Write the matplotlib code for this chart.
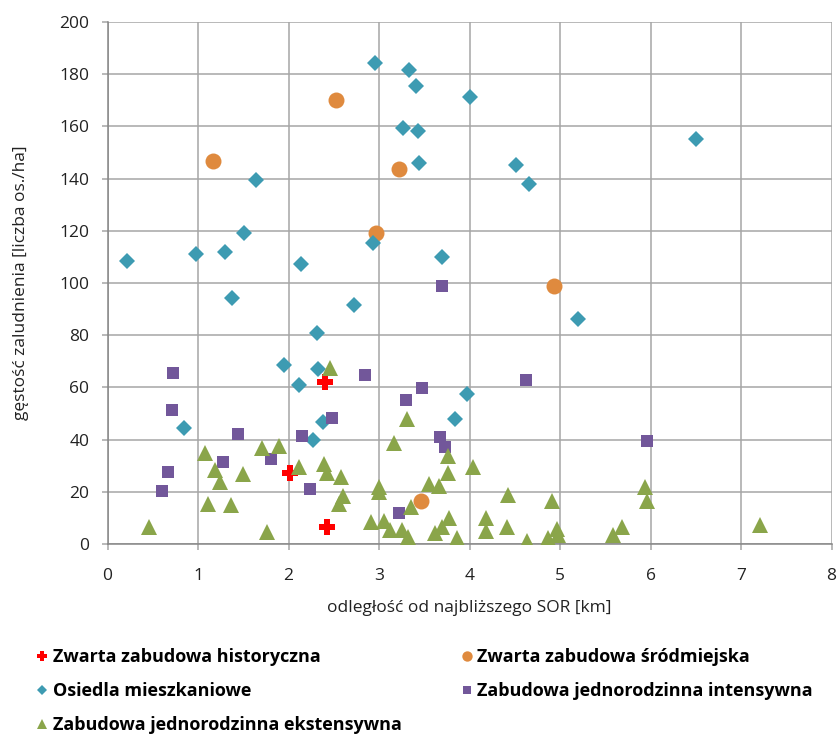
import matplotlib
matplotlib.use('Agg')
import matplotlib.pyplot as plt
from matplotlib import font_manager as fm
from matplotlib.lines import Line2D

# font: pick a narrow sans if installed (reference uses Calibri)
_installed = {f.name for f in fm.fontManager.ttflist}
_family = [f for f in ['Liberation Sans Narrow', 'Open Sans', 'DejaVu Sans'] if f in _installed]
plt.rcParams['font.family'] = _family + ['DejaVu Sans']

# --- dane ---
hist_x = [2.40, 2.02, 2.42]
hist_y = [61.9, 27.2, 6.4]

srod_x = [2.52, 1.16, 3.22, 2.97, 4.93, 3.46]
srod_y = [170.0, 146.9, 143.7, 119.0, 98.8, 16.6]

osiedla_x = [0.22, 0.98, 1.30, 1.51, 1.64, 2.14, 2.95, 3.33, 3.41, 4.00,
             3.26, 3.43, 3.44, 2.93, 3.70, 4.51, 4.66, 6.50, 1.37, 2.72,
             2.31, 1.95, 2.32, 2.12, 0.85, 2.38, 2.27, 3.84, 3.97, 5.20]
osiedla_y = [108.6, 111.1, 111.8, 119.3, 139.6, 107.1, 184.4, 181.5, 175.6, 171.1,
             159.5, 158.2, 145.8, 115.4, 110.1, 145.1, 137.9, 155.2, 94.4, 91.5,
             80.8, 68.7, 66.9, 60.8, 44.4, 46.8, 39.7, 47.9, 57.4, 86.1]

intens_x = [0.72, 0.71, 1.44, 1.28, 0.67, 0.60, 1.81, 2.15, 2.24, 2.48,
            2.84, 3.70, 3.30, 3.48, 3.22, 3.67, 3.73, 4.62, 5.96]
intens_y = [65.5, 51.2, 42.2, 31.3, 27.4, 20.2, 32.4, 41.2, 20.9, 48.1,
            64.6, 98.8, 55.0, 59.8, 11.7, 41.0, 37.3, 62.7, 39.4]

ekst_x = [0.46, 1.08, 1.11, 1.19, 1.24, 1.36, 1.50, 1.71, 1.76, 1.90,
          2.12, 2.46, 2.39, 2.42, 2.58, 2.60, 2.56, 3.00, 3.00, 2.91,
          3.05, 3.12, 3.16, 3.31, 3.76, 3.76, 4.04, 3.55, 3.66, 3.35,
          3.25, 3.32, 3.62, 3.70, 3.77, 3.86, 4.18, 4.18, 4.43, 4.41,
          4.91, 4.64, 4.87, 4.97, 4.98, 5.58, 5.68, 5.94, 5.96, 7.21]
ekst_y = [6.4, 34.7, 15.3, 28.3, 23.9, 14.9, 26.8, 36.6, 4.7, 37.5,
          29.4, 67.3, 30.6, 27.3, 25.8, 18.4, 15.3, 21.7, 20.0, 8.5,
          8.9, 5.4, 38.8, 47.7, 33.7, 27.3, 29.6, 23.0, 22.3, 14.0,
          5.4, 2.8, 4.1, 6.6, 9.8, 2.2, 9.8, 5.0, 18.8, 6.4,
          16.5, 1.3, 2.2, 5.6, 3.4, 3.4, 6.6, 21.9, 16.6, 7.3]

x_ticks = [0, 1, 2, 3, 4, 5, 6, 7, 8]
y_ticks = [0, 20, 40, 60, 80, 100, 120, 140, 160, 180, 200]

labels = ['Zwarta zabudowa historyczna', 'Zwarta zabudowa śródmiejska',
          'Osiedla mieszkaniowe', 'Zabudowa jednorodzinna intensywna',
          'Zabudowa jednorodzinna ekstensywna']

# styl serii
SERIES = [
    (hist_x, hist_y, dict(marker='P', color='#FF0000', ms=11)),
    (srod_x, srod_y, dict(marker='o', color='#DF8A3E', ms=11.5)),
    (osiedla_x, osiedla_y, dict(marker='D', color='#3D9BB2', ms=8.5)),
    (intens_x, intens_y, dict(marker='s', color='#72579A', ms=8)),
    (ekst_x, ekst_y, dict(marker='^', color='#8AA54A', ms=11)),
]
GRID = '#A6A6A6'

fig = plt.figure(figsize=(8.4, 7.34), dpi=100)
ax = fig.add_axes([0.128, 0.259, 0.862, 0.711])

handles = []
for (xs, ys, st), lab in zip(SERIES, labels):
    ax.plot(xs, ys, linestyle='none', marker=st['marker'], color=st['color'],
            markersize=st['ms'], markeredgewidth=0, zorder=3)
    handles.append(Line2D([], [], linestyle='none', marker=st['marker'],
                          color=st['color'], markersize=st['ms'] * 0.65,
                          markeredgewidth=0, label=lab))

ax.set_xlim(0, 8)
ax.set_ylim(0, 200)
ax.set_xticks(x_ticks)
ax.set_yticks(y_ticks)
ax.grid(True, color=GRID, linewidth=1.1)
ax.set_axisbelow(True)
for side in ['top', 'right']:
    ax.spines[side].set_visible(False)
for side in ['left', 'bottom']:
    ax.spines[side].set_color('#868686')
    ax.spines[side].set_linewidth(1.1)
ax.tick_params(axis='both', direction='out', length=4, width=1.1, color=GRID,
               labelsize=12.5, pad=9, labelcolor='#222222')
ax.tick_params(axis='x', pad=13)

ax.set_xlabel('odległość od najbliższego SOR [km]', fontsize=12.5, labelpad=12, color='#222222')
ax.set_ylabel('gęstość zaludnienia [liczba os./ha]', fontsize=12.5, labelpad=22, color='#222222')

# legenda: kolumna 1 = wiersze 1-3 lewej strony, kolumna 2 = prawa
order = [0, 2, 4, 1, 3]
leg = fig.legend([handles[i] for i in order], [labels[i] for i in order],
                 ncol=2, loc='upper left', bbox_to_anchor=(0.024, 0.139),
                 frameon=False, handlelength=0.6, handletextpad=0.3,
                 columnspacing=3.3, labelspacing=0.88,
                 prop={'weight': 'bold', 'size': 13})

fig.savefig('out.png', dpi=100)
